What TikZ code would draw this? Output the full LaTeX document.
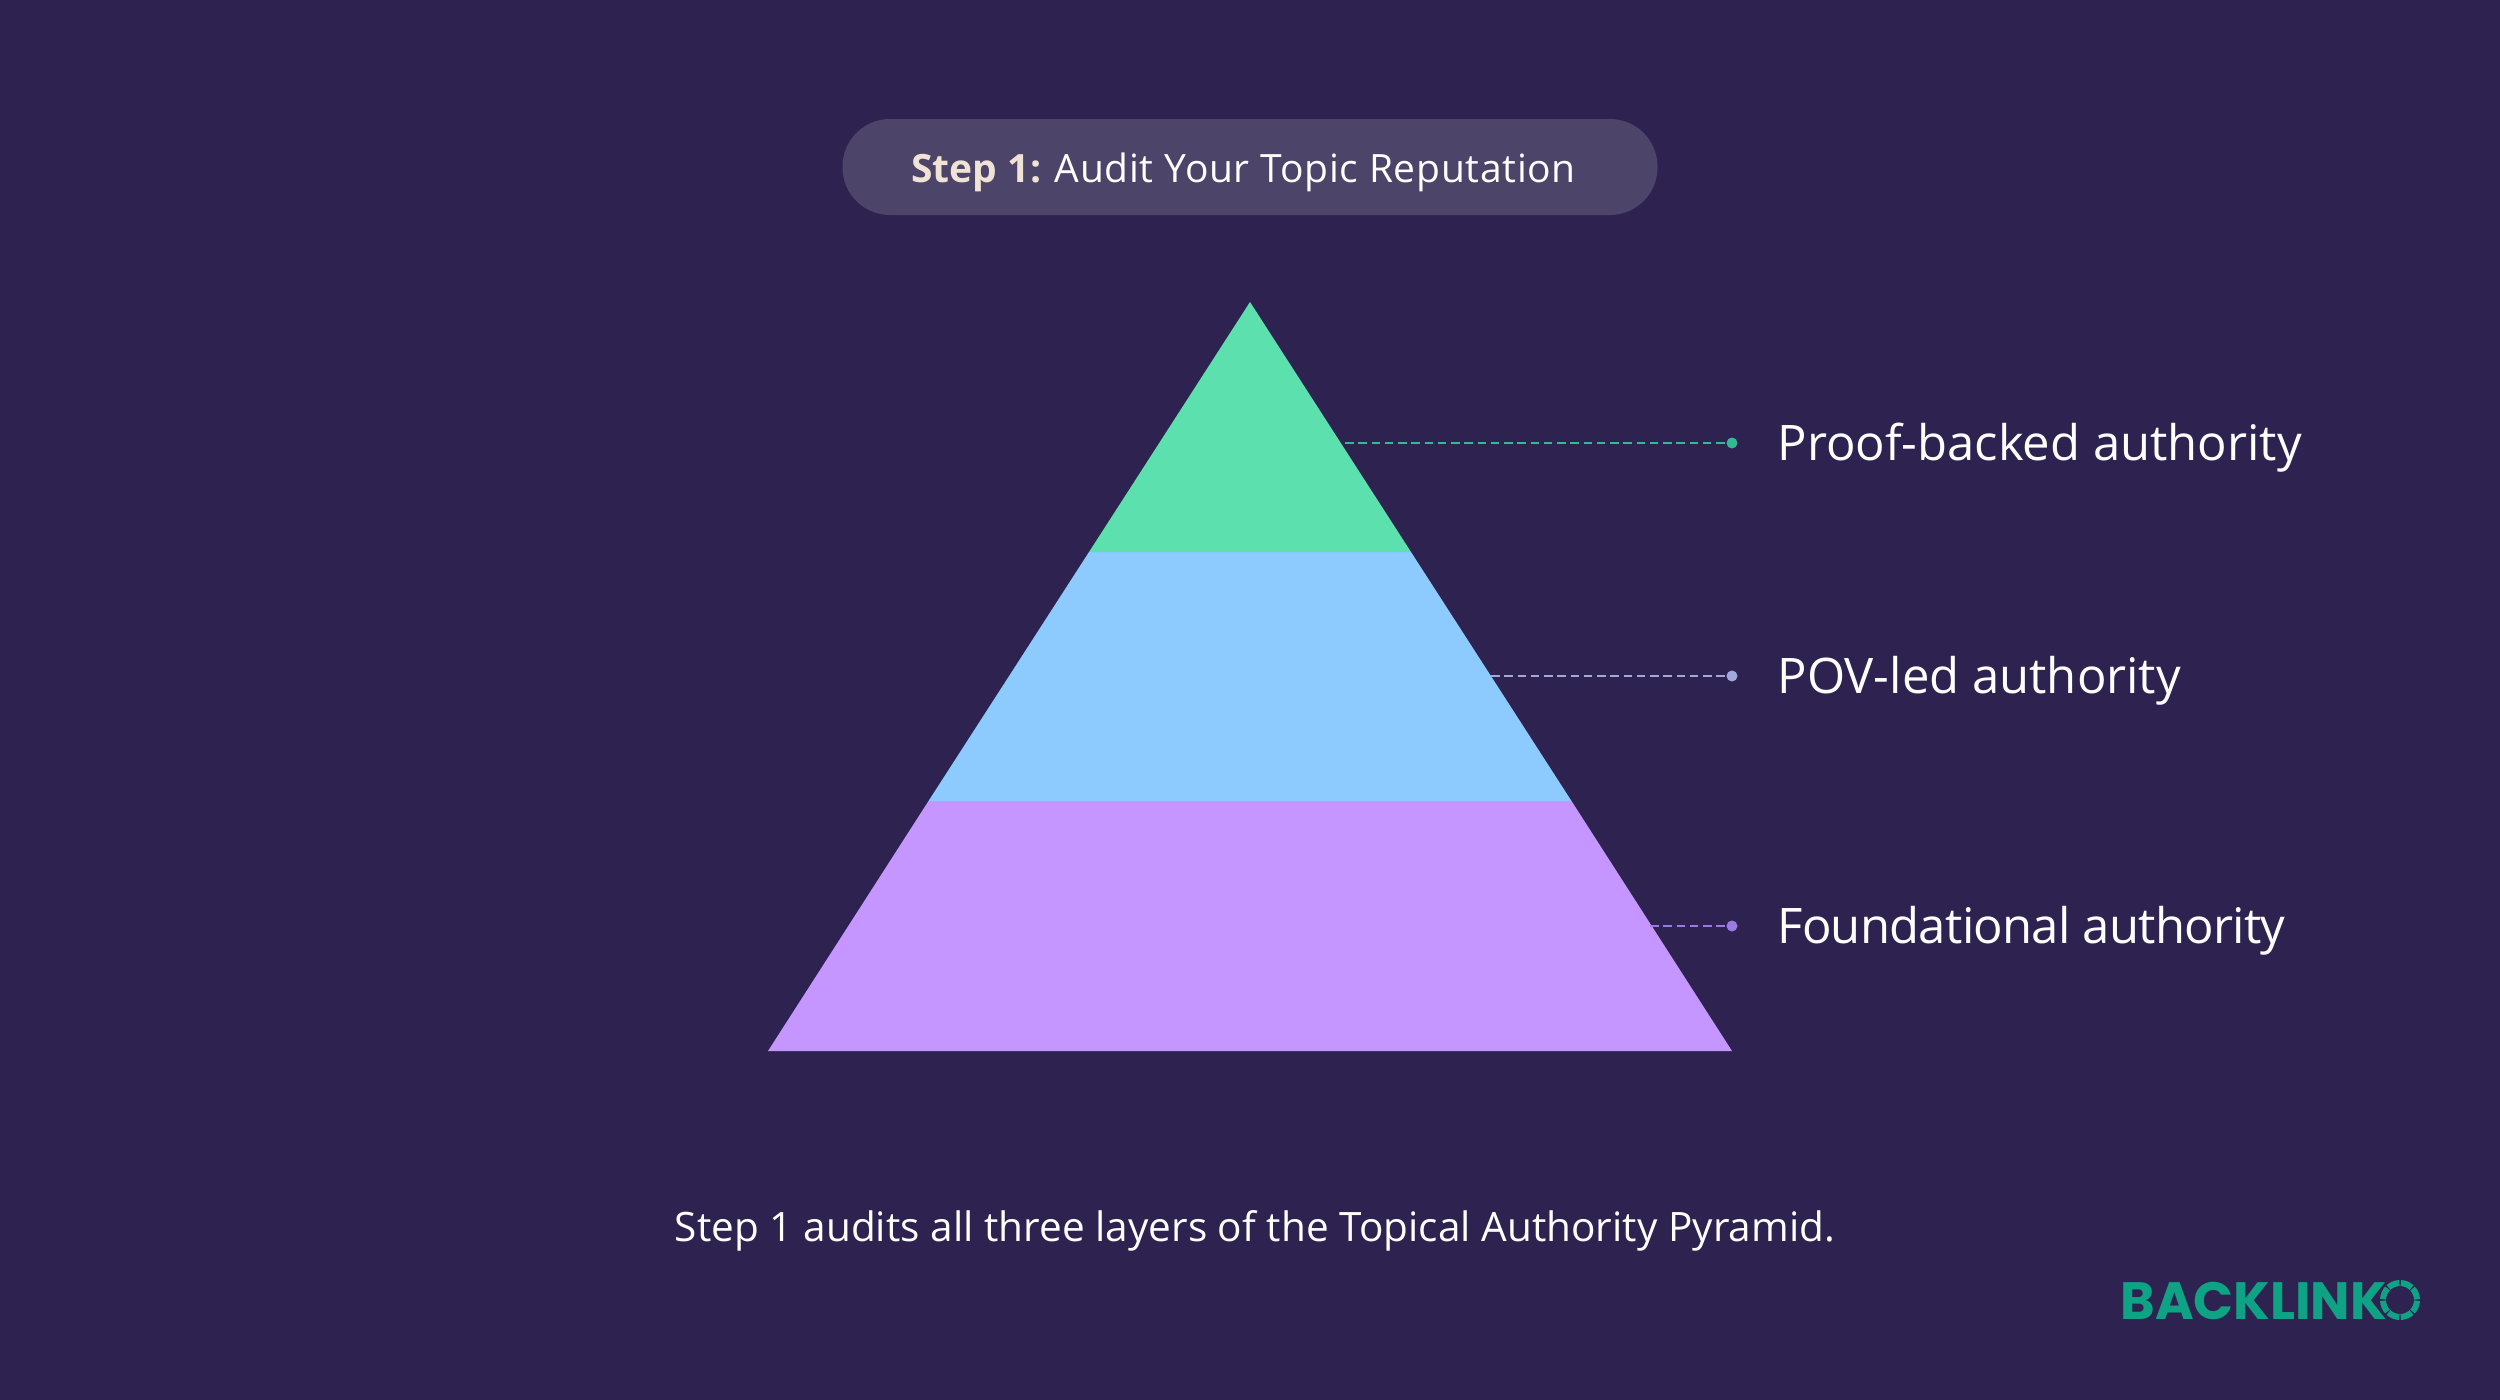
\documentclass[tikz,border=0pt]{standalone}
\usepackage{fontspec}
\setmainfont{Open Sans}
\newfontfamily\logofont{Poppins}
\newfontfamily\wideaudit[LetterSpace=1.8]{Open Sans}
\newfontfamily\narrowfound[LetterSpace=-1.5]{Open Sans}
\newfontfamily\widefoot[LetterSpace=0.15]{Open Sans}
\definecolor{bgc}{HTML}{2E2350}
\definecolor{pillc}{HTML}{4D4469}
\definecolor{greenc}{HTML}{5CE0AE}
\definecolor{bluec}{HTML}{8DCBFF}
\definecolor{purplec}{HTML}{C596FF}
\definecolor{logoc}{HTML}{0FA386}
\definecolor{stepc}{HTML}{EFE3D6}
\definecolor{dotg}{HTML}{35B995}
\definecolor{dotb}{HTML}{A0A8DC}
\definecolor{dotp}{HTML}{9B7BDF}
\newcommand{\fsz}[1]{\fontsize{#1}{#1}\selectfont}
\tikzset{
  x=0.4pt,y=-0.4pt,
  layer/.style={draw=none},
  leader/.style={line width=0.8pt,dash pattern=on 3.4pt off 1.9pt},
  leaddot/.style={circle,inner sep=0pt,minimum size=4.4pt,draw=none},
  lab/.style={anchor=base west,inner sep=0pt,text=white,font=\fsz{19.6}},
}
\begin{document}
\begin{tikzpicture}
\useasboundingbox (0,0) rectangle (2500,1400);
\fill[bgc] (0,0) rectangle (2500,1400);
% pill
\node (pill) at (1250,167) [draw=none,fill=pillc,rounded corners=19pt,minimum width=326pt,minimum height=38.4pt,inner sep=0pt] {};
\node (title) at (911,182) [anchor=base west,inner sep=0pt,text=white,font=\fsz{15.6}] {\textcolor{stepc}{\textbf{Step 1:}} {\wideaudit\fsz{15.6}Audit Your Topic Reputation}};
% pyramid
\coordinate (apex) at (1250,302);
\coordinate (al) at (1089,552);
\coordinate (ar) at (1411,552);
\coordinate (bl) at (928.5,801);
\coordinate (br) at (1571.5,801);
\coordinate (cl) at (768,1051);
\coordinate (cr) at (1732,1051);
\fill[layer,purplec] (bl) -- (br) -- (cr) -- (cl) -- cycle;
\fill[layer,bluec] (al) -- (ar) -- (br) -- (bl) -- cycle;
\fill[layer,greenc] (apex) -- (ar) -- (al) -- cycle;
% leaders
\coordinate (s1) at (1345,443);
\coordinate (s2) at (1491,676);
\coordinate (s3) at (1650,926);
\node (d1) at (1732,443) [leaddot,fill=dotg] {};
\node (d2) at (1732,676) [leaddot,fill=dotb] {};
\node (d3) at (1732,926) [leaddot,fill=dotp] {};
\draw[leader,color=dotg] (s1) -- (d1);
\draw[leader,color=dotb] (s2) -- (d2);
\draw[leader,color=dotp] (s3) -- (d3);
% labels
\node (l1) at (1777,460) [lab] {Proof-backed authority};
\node (l2) at (1777,693) [lab] {POV-led authority};
\node (l3) at (1777,943) [lab] {{\narrowfound\fsz{19.6}Foundational authority}};
% footer
\node (foot) at (1255,1241) [anchor=base,inner sep=0pt,text=white,font=\fsz{16.2}] {{\widefoot\fsz{16.2}Step 1 audits all three layers of the Topical Authority Pyramid.}};
% logo
\node (logo) at (2120,1319) [anchor=base west,inner sep=0pt,text=logoc,font=\logofont\bfseries\fsz{21}] {BACKLINK};
\draw[logoc,line width=2.4pt,dash pattern=on 4.75pt off 0.59pt,dash phase=5.05pt] (2400,1300) circle[radius=17];
\end{tikzpicture}
\end{document}
